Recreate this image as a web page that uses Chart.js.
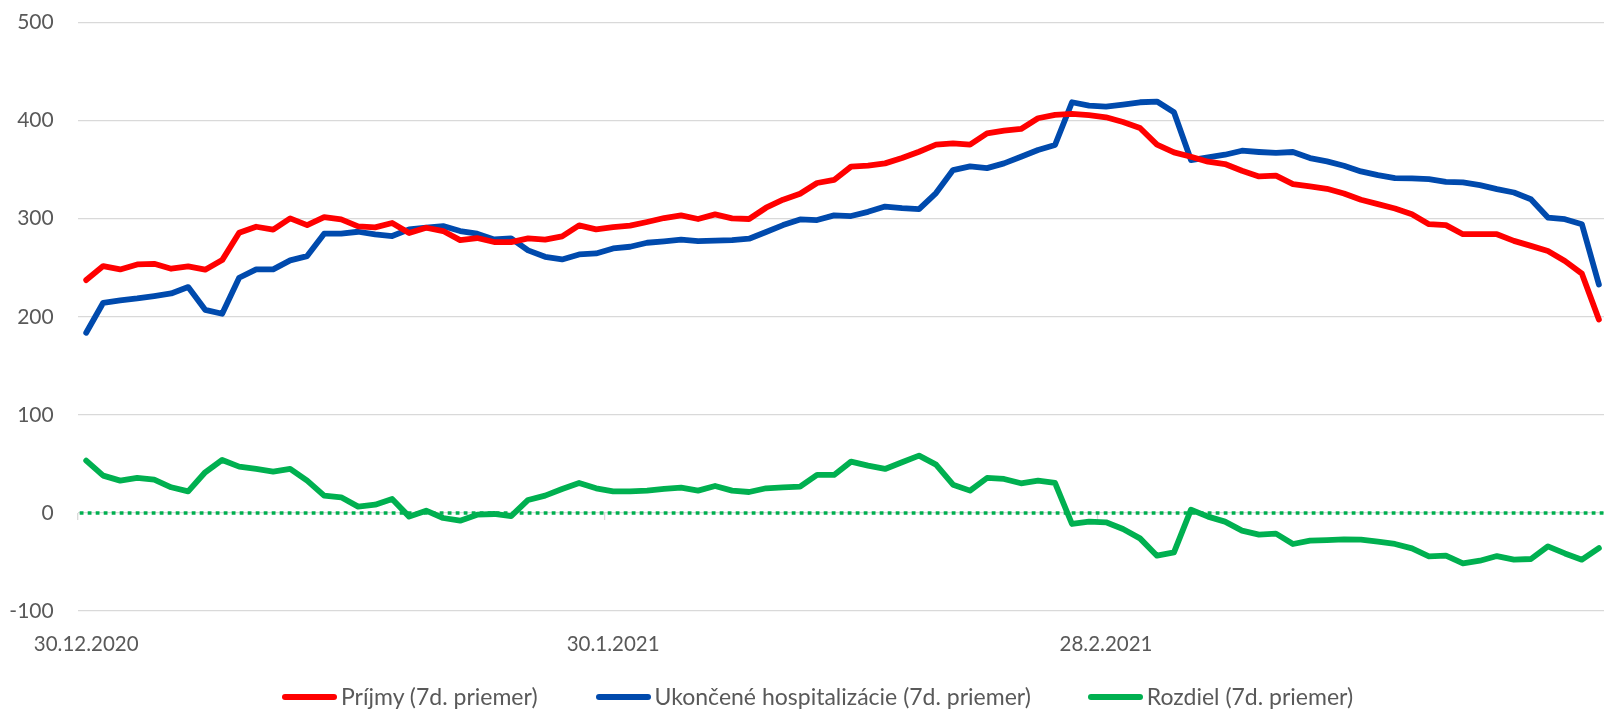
<!DOCTYPE html>
<html>
<head>
<meta charset="utf-8">
<script src="https://cdn.jsdelivr.net/npm/chart.js@4"></script>
<style>
  html, body { margin: 0; padding: 0; background: #fff; overflow: hidden; }
  #wrap { position: relative; width: 1604px; height: 709px; }
  #legend { position: absolute; left: 282px; top: 683px; display: flex; align-items: center;
            font-family: Lato, sans-serif; font-size: 23px; line-height: 27px; color: #595959; white-space: nowrap; }
  #legend .item { display: flex; align-items: center; }
  #legend .swatch { width: 55px; height: 6px; border-radius: 3px; margin-right: 4px; }
</style>
</head>
<body>
<div id="wrap">
  <canvas id="linechart"></canvas>
  <div id="legend"></div>
</div>
<script>
// days from 30.12.2020 to 29.3.2021
const startDay = new Date(2020, 11, 30);
const dates = [];
for (let i = 0; i < 90; i++) {
  const d = new Date(startDay.getFullYear(), startDay.getMonth(), startDay.getDate() + i);
  dates.push(d.getDate() + '.' + (d.getMonth() + 1) + '.' + d.getFullYear());
}

const tickLabels = ['30.12.2020', '30.1.2021', '28.2.2021'];

// Príjmy (7d. priemer)
const prijmy = [
  237.4, 251.7, 248.3, 253.4, 254.0, 249.0, 251.4, 248.0, 257.8, 285.7,
  291.8, 288.8, 300.3, 293.5, 301.7, 299.3, 292.2, 291.2, 295.6, 285.4,
  290.8, 287.4, 278.2, 280.3, 276.2, 276.2, 280.0, 278.6, 282.0, 293.2,
  289.1, 291.5, 292.9, 296.6, 300.7, 303.4, 299.7, 304.4, 300.3, 299.7,
  311.2, 319.4, 325.5, 336.4, 339.5, 353.1, 354.1, 356.4, 361.8, 368.3,
  375.5, 376.8, 375.5, 387.0, 389.8, 391.5, 402.4, 405.8, 406.8, 405.5,
  403.4, 398.6, 392.5, 375.5, 367.6, 363.2, 358.1, 355.7, 348.9, 343.1,
  344.0, 335.3, 332.9, 330.5, 325.7, 319.3, 314.8, 310.4, 304.6, 294.4,
  293.4, 284.2, 284.2, 284.2, 277.4, 272.3, 267.1, 256.9, 244.0, 197.3
];

// Ukončené hospitalizácie (7d. priemer)
const ukoncene = [
  183.7, 214.3, 216.7, 218.7, 221.1, 223.8, 230.3, 207.1, 203.1, 239.8,
  248.3, 248.3, 257.5, 261.9, 284.7, 284.7, 286.7, 284.0, 282.3, 289.1,
  290.8, 292.5, 287.4, 284.7, 278.9, 280.0, 267.7, 261.2, 258.5, 263.6,
  264.6, 269.7, 271.4, 275.5, 276.9, 278.6, 277.2, 277.6, 278.2, 279.6,
  286.4, 293.5, 299.3, 298.6, 303.4, 302.7, 307.0, 312.4, 310.7, 309.7,
  326.1, 349.6, 353.3, 351.6, 356.4, 363.2, 370.0, 375.1, 418.7, 415.3,
  414.3, 416.4, 418.7, 419.4, 408.5, 359.8, 362.5, 365.2, 369.3, 368.0,
  367.0, 368.0, 361.8, 358.4, 354.0, 348.2, 344.5, 341.4, 341.1, 340.4,
  337.6, 337.0, 334.2, 330.2, 326.7, 319.9, 301.2, 299.5, 294.4, 233.0
];

// Rozdiel (7d. priemer)
const rozdiel = [
  53.4, 38.1, 33.0, 35.7, 34.0, 26.2, 22.1, 41.5, 54.1, 47.3,
  44.9, 42.2, 44.9, 33.0, 17.7, 16.0, 6.5, 8.5, 14.3, -3.7,
  2.4, -5.1, -7.8, -1.7, -1.0, -3.1, 13.3, 17.7, 24.5, 30.6,
  25.2, 22.1, 22.1, 22.8, 24.5, 25.9, 22.8, 27.6, 22.8, 21.4,
  25.2, 26.2, 26.9, 38.8, 38.8, 52.4, 48.3, 44.9, 51.7, 58.5,
  49.3, 28.9, 22.8, 35.7, 34.7, 30.3, 33.0, 30.6, -11.2, -8.8,
  -9.5, -16.3, -25.9, -43.5, -40.1, 3.4, -3.7, -8.8, -18.0, -22.1,
  -21.0, -31.6, -28.2, -27.6, -26.9, -27.2, -29.3, -31.6, -36.1, -44.2,
  -43.5, -51.4, -48.6, -43.9, -47.6, -46.9, -34.0, -41.2, -47.6, -35.7
];

const red = '#ff0000';
const blue = '#004aad';
const green = '#00b050';
const textGray = '#595959';

const toPoints = arr => arr.map((v, i) => ({ x: i, y: v }));

const line = (label, data, color) => ({
  label: label,
  data: toPoints(data),
  borderColor: color,
  backgroundColor: color,
  borderWidth: 5.8,
  borderJoinStyle: 'round',
  borderCapStyle: 'round',
  pointRadius: 0,
  tension: 0
});

// dotted zero line + the small axis ticks hanging from it
const zeroLine = {
  id: 'zeroLine',
  beforeDatasetsDraw(chart) {
    const { ctx, chartArea, scales } = chart;
    const y0 = scales.y.getPixelForValue(0);
    ctx.save();
    ctx.strokeStyle = '#d9d9d9';
    ctx.lineWidth = 1.3;
    tickLabels.forEach(t => {
      const x = scales.x.getPixelForValue(dates.indexOf(t) - 0.5);
      ctx.beginPath();
      ctx.moveTo(x, y0);
      ctx.lineTo(x, y0 + 7);
      ctx.stroke();
    });
    ctx.strokeStyle = green;
    ctx.lineWidth = 3.5;
    ctx.setLineDash([3.8, 4.2]);
    ctx.beginPath();
    ctx.moveTo(chartArea.left + 2, y0);
    ctx.lineTo(chartArea.right, y0);
    ctx.stroke();
    ctx.restore();
  }
};

const linechart = document.getElementById('linechart').getContext('2d');
const mychart = new Chart(linechart, {
  type: 'line',
  data: {
    datasets: [
      line('Príjmy (7d. priemer)', prijmy, red),
      line('Ukončené hospitalizácie (7d. priemer)', ukoncene, blue),
      line('Rozdiel (7d. priemer)', rozdiel, green)
    ]
  },
  plugins: [zeroLine],
  options: {
    responsive: true,
    maintainAspectRatio: false,
    animation: false,
    layout: { padding: { top: 22.5, left: 10, right: 0, bottom: 31.3 } },
    scales: {
      x: {
        type: 'linear',
        min: -0.5,
        max: 89.3,
        grid: { display: false, drawTicks: false },
        border: { display: false },
        afterBuildTicks: scale => {
          scale.ticks = tickLabels.map(t => ({ value: dates.indexOf(t) }));
        },
        ticks: {
          autoSkip: false,
          maxRotation: 0,
          padding: 21,
          color: textGray,
          font: { family: 'Lato', size: 20.5 },
          callback: v => dates[v]
        }
      },
      y: {
        min: -100,
        max: 500,
        grid: { color: '#d9d9d9', lineWidth: 1.3, drawTicks: true, tickLength: 24, tickColor: 'rgba(0,0,0,0)' },
        border: { display: false },
        afterFit: scale => { scale.width = 67.7; },
        ticks: {
          stepSize: 100,
          padding: 0,
          color: textGray,
          font: { family: 'Lato', size: 21 }
        }
      }
    },
    plugins: {
      tooltip: { enabled: false },
      legend: { display: false }
    }
  }
});

// legend row under the chart, built from the datasets
const gaps = [58, 57, 0];
const legendBox = document.getElementById('legend');
mychart.data.datasets.forEach((ds, i) => {
  const item = document.createElement('div');
  item.className = 'item';
  item.style.marginRight = gaps[i] + 'px';
  const sw = document.createElement('span');
  sw.className = 'swatch';
  sw.style.background = ds.borderColor;
  const txt = document.createElement('span');
  txt.textContent = ds.label;
  item.appendChild(sw);
  item.appendChild(txt);
  legendBox.appendChild(item);
});
</script>
</body>
</html>
